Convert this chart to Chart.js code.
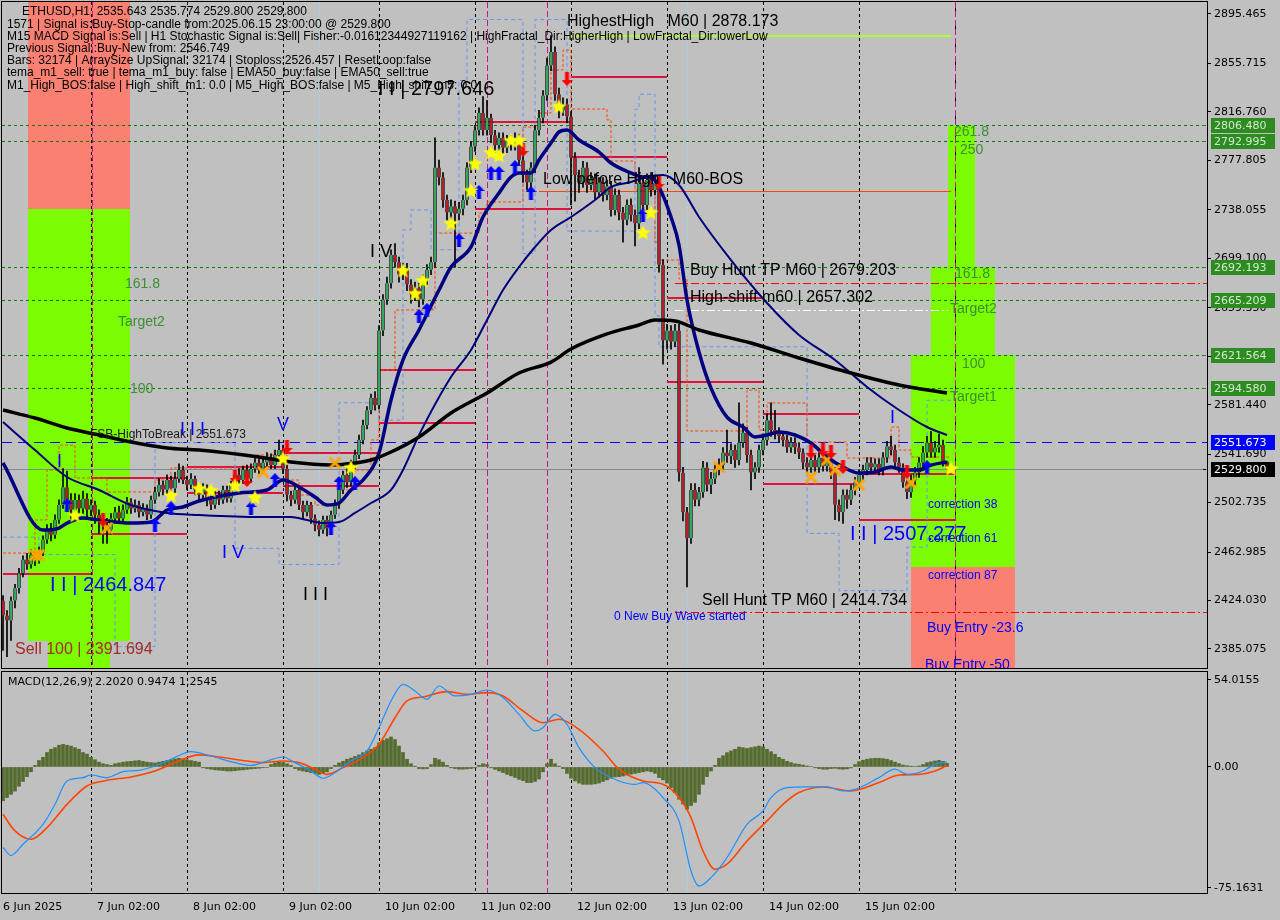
<!DOCTYPE html>
<html>
<head>
<meta charset="utf-8">
<title>ETHUSD,H1</title>
<script src="https://cdn.jsdelivr.net/npm/chart.js@4.4.1/dist/chart.umd.min.js"></script>
<style>
  html, body { margin: 0; padding: 0; background: #c0c0c0; }
  #wrap { position: relative; width: 1280px; height: 920px; overflow: hidden; }
  #wrap canvas { position: absolute; left: 0; }
  #mainChart { top: 0; }
  #macdChart { top: 670px; }
</style>
</head>
<body>
<div id="wrap">
  <canvas id="mainChart" width="1280" height="670"></canvas>
  <canvas id="macdChart" width="1280" height="250"></canvas>
</div>
<script>
// --- 1. Data (H1 bars from 6 Jun 2025 04:00 to 15 Jun 2025 23:00) ---
const opens = [
  2424, 2412, 2408, 2424, 2434, 2446, 2457, 2453, 2461, 2457,
  2463, 2473, 2481, 2477, 2489, 2501, 2515, 2505, 2497, 2505,
  2498, 2506, 2497, 2501, 2493, 2489, 2485, 2481, 2490, 2495,
  2490, 2497, 2503, 2498, 2501, 2495, 2498, 2493, 2505, 2511,
  2517, 2513, 2521, 2514, 2522, 2529, 2521, 2517, 2522, 2513,
  2509, 2514, 2505, 2501, 2509, 2505, 2513, 2506, 2517, 2525,
  2521, 2529, 2522, 2530, 2535, 2529, 2535, 2539, 2533, 2541,
  2545, 2530, 2509, 2505, 2513, 2501, 2495, 2501, 2490, 2485,
  2481, 2489, 2482, 2493, 2501, 2513, 2525, 2519, 2533, 2541,
  2553, 2565, 2577, 2587, 2581, 2641, 2666, 2679, 2702, 2696,
  2686, 2691, 2678, 2670, 2675, 2666, 2682, 2690, 2696, 2772,
  2764, 2746, 2736, 2741, 2735, 2739, 2746, 2772, 2789, 2802,
  2816, 2802, 2812, 2798, 2790, 2796, 2788, 2794, 2790, 2796,
  2778, 2766, 2760, 2772, 2802, 2812, 2830, 2854, 2865, 2831,
  2818, 2823, 2813, 2780, 2766, 2760, 2772, 2758, 2763, 2752,
  2760, 2750, 2757, 2738, 2750, 2736, 2730, 2742, 2734, 2727,
  2760, 2742, 2762, 2754, 2760, 2694, 2633, 2641, 2632, 2641,
  2527, 2495, 2474, 2513, 2505, 2511, 2531, 2517, 2522, 2529,
  2533, 2543, 2540, 2545, 2537, 2551, 2559, 2541, 2527, 2531,
  2545, 2553, 2569, 2561, 2559, 2556, 2553, 2547, 2551, 2547,
  2543, 2535, 2531, 2537, 2531, 2539, 2532, 2535, 2527, 2501,
  2495, 2509, 2505, 2513, 2519, 2525, 2529, 2535, 2531, 2534,
  2529, 2539, 2548, 2545, 2535, 2531, 2519, 2511, 2521, 2527,
  2535, 2543, 2551, 2543, 2547, 2549, 2535.643
];
const highs = [
  2428, 2416, 2427, 2437, 2450, 2460, 2462, 2465, 2464, 2467,
  2476, 2485, 2486, 2493, 2505, 2530, 2528, 2510, 2510, 2509,
  2512, 2510, 2505, 2504, 2497, 2494, 2490, 2494, 2499, 2500,
  2501, 2507, 2506, 2505, 2504, 2502, 2501, 2508, 2515, 2522,
  2520, 2525, 2524, 2527, 2534, 2532, 2524, 2526, 2524, 2516,
  2518, 2517, 2508, 2512, 2512, 2516, 2516, 2520, 2528, 2530,
  2532, 2533, 2534, 2539, 2538, 2538, 2543, 2542, 2545, 2553,
  2549, 2533, 2512, 2516, 2515, 2504, 2504, 2503, 2493, 2488,
  2492, 2492, 2496, 2505, 2516, 2528, 2530, 2537, 2545, 2557,
  2569, 2580, 2590, 2592, 2645, 2670, 2684, 2706, 2711, 2700,
  2695, 2695, 2682, 2680, 2679, 2686, 2694, 2700, 2796, 2778,
  2768, 2750, 2746, 2745, 2744, 2750, 2776, 2793, 2806, 2820,
  2829, 2826, 2815, 2802, 2800, 2800, 2798, 2798, 2800, 2799,
  2781, 2770, 2776, 2806, 2818, 2834, 2860, 2878.173, 2869, 2836,
  2828, 2827, 2817, 2784, 2770, 2777, 2776, 2768, 2767, 2764,
  2764, 2762, 2761, 2755, 2754, 2740, 2746, 2747, 2738, 2772,
  2765, 2767, 2768, 2766, 2764, 2698, 2646, 2645, 2646, 2646,
  2531, 2499, 2518, 2518, 2515, 2536, 2535, 2527, 2533, 2538,
  2547, 2561, 2550, 2549, 2583, 2566, 2563, 2545, 2535, 2549,
  2558, 2574, 2583, 2577, 2563, 2560, 2557, 2555, 2555, 2551,
  2546, 2539, 2541, 2541, 2543, 2543, 2539, 2539, 2531, 2505,
  2513, 2513, 2517, 2523, 2529, 2533, 2539, 2539, 2538, 2538,
  2543, 2552, 2556, 2549, 2539, 2534, 2522, 2525, 2531, 2539,
  2548, 2556, 2560, 2552, 2558, 2553, 2535.774
];
const lows = [
  2384, 2379, 2392, 2418, 2430, 2443, 2449, 2450, 2452, 2454,
  2460, 2470, 2472, 2474, 2486, 2498, 2500, 2490, 2493, 2494,
  2494, 2491, 2492, 2486, 2478, 2470, 2470, 2477, 2487, 2486,
  2487, 2494, 2494, 2495, 2491, 2492, 2489, 2490, 2502, 2508,
  2509, 2510, 2511, 2511, 2519, 2518, 2513, 2514, 2509, 2505,
  2506, 2500, 2497, 2498, 2501, 2502, 2503, 2503, 2514, 2518,
  2518, 2519, 2519, 2527, 2526, 2526, 2532, 2530, 2530, 2538,
  2526, 2504, 2500, 2502, 2497, 2490, 2492, 2486, 2480, 2476,
  2478, 2476, 2479, 2490, 2498, 2510, 2515, 2516, 2530, 2538,
  2550, 2562, 2574, 2577, 2578, 2637, 2662, 2675, 2692, 2680,
  2682, 2673, 2663, 2665, 2660, 2662, 2678, 2686, 2692, 2758,
  2740, 2730, 2730, 2692, 2730, 2734, 2742, 2768, 2785, 2798,
  2798, 2798, 2792, 2784, 2786, 2783, 2784, 2786, 2786, 2774,
  2760, 2754, 2756, 2768, 2798, 2808, 2826, 2850, 2826, 2812,
  2814, 2808, 2742, 2745, 2752, 2756, 2752, 2754, 2747, 2748,
  2745, 2746, 2733, 2734, 2730, 2712, 2726, 2729, 2709, 2723,
  2737, 2738, 2749, 2750, 2688, 2614, 2626, 2626, 2628, 2520,
  2488, 2435, 2470, 2500, 2500, 2507, 2512, 2510, 2518, 2525,
  2529, 2535, 2534, 2531, 2533, 2547, 2535, 2513, 2522, 2527,
  2541, 2549, 2556, 2554, 2551, 2548, 2543, 2543, 2542, 2538,
  2530, 2526, 2527, 2526, 2527, 2528, 2528, 2522, 2489, 2488,
  2486, 2498, 2501, 2509, 2515, 2521, 2525, 2527, 2527, 2525,
  2525, 2535, 2541, 2531, 2527, 2515, 2506, 2507, 2517, 2523,
  2531, 2539, 2539, 2539, 2543, 2532, 2529.8
];
const closes = [
  2412, 2408, 2424, 2434, 2446, 2457, 2453, 2461, 2457, 2463,
  2473, 2481, 2477, 2489, 2501, 2515, 2505, 2497, 2505, 2498,
  2506, 2497, 2501, 2493, 2489, 2485, 2481, 2490, 2495, 2490,
  2497, 2503, 2498, 2501, 2495, 2498, 2493, 2505, 2511, 2517,
  2513, 2521, 2514, 2522, 2529, 2521, 2517, 2522, 2513, 2509,
  2514, 2505, 2501, 2509, 2505, 2513, 2506, 2517, 2525, 2521,
  2529, 2522, 2530, 2535, 2529, 2535, 2539, 2533, 2541, 2545,
  2530, 2509, 2505, 2513, 2501, 2495, 2501, 2490, 2485, 2481,
  2489, 2482, 2493, 2501, 2513, 2525, 2519, 2533, 2541, 2553,
  2565, 2577, 2587, 2581, 2641, 2666, 2679, 2702, 2696, 2686,
  2691, 2678, 2670, 2675, 2666, 2682, 2690, 2696, 2772, 2764,
  2746, 2736, 2741, 2735, 2739, 2746, 2772, 2789, 2802, 2816,
  2802, 2812, 2798, 2790, 2796, 2788, 2794, 2790, 2796, 2778,
  2766, 2760, 2772, 2802, 2812, 2830, 2854, 2865, 2831, 2818,
  2823, 2813, 2780, 2766, 2760, 2772, 2758, 2763, 2752, 2760,
  2750, 2757, 2738, 2750, 2736, 2730, 2742, 2734, 2727, 2760,
  2742, 2762, 2754, 2760, 2694, 2633, 2641, 2632, 2641, 2527,
  2495, 2474, 2513, 2505, 2511, 2531, 2517, 2522, 2529, 2533,
  2543, 2540, 2545, 2537, 2551, 2559, 2541, 2527, 2531, 2545,
  2553, 2569, 2561, 2559, 2556, 2553, 2547, 2551, 2547, 2543,
  2535, 2531, 2537, 2531, 2539, 2532, 2535, 2527, 2501, 2495,
  2509, 2505, 2513, 2519, 2525, 2529, 2535, 2531, 2534, 2529,
  2539, 2548, 2545, 2535, 2531, 2519, 2511, 2521, 2527, 2535,
  2543, 2551, 2543, 2547, 2549, 2535.643, 2529.8
];

// moving averages, read at sample bars
const emaFastIdx = [0, 10, 14, 16, 20, 24, 32, 37, 41, 45, 49, 59, 66, 70, 74, 78, 81, 84, 87, 90, 94, 97, 100, 104, 109, 112, 117, 120, 124, 127, 129, 132, 134, 137, 139, 141, 144, 149, 152, 157, 160, 162, 164, 167, 169, 171, 174, 177, 181, 185, 188, 191, 194, 198, 202, 206, 210, 214, 218, 222, 225, 229, 232, 236];
const emaFastVal = [2534.6, 2480.7, 2482.3, 2486.3, 2490.4, 2488.7, 2486.3, 2487.1, 2496.8, 2499.2, 2504.0, 2510.5, 2512.9, 2520.9, 2515.3, 2507.2, 2500.8, 2502.4, 2512.9, 2520.9, 2542.6, 2585.2, 2617.4, 2641.5, 2673.6, 2692.1, 2708.2, 2732.3, 2751.6, 2764.4, 2767.7, 2767.7, 2778.1, 2791.8, 2800.6, 2802.2, 2794.2, 2784.5, 2775.7, 2767.7, 2764.5, 2764.5, 2756.4, 2732.3, 2709.8, 2665.6, 2623.8, 2594.8, 2571.5, 2563.5, 2555.5, 2557.1, 2559.5, 2557.1, 2550.6, 2539.4, 2531.4, 2526.5, 2527.3, 2531.4, 2528.9, 2528.9, 2532.9, 2535.4];
const ema50Idx = [0, 8, 16, 24, 32, 41, 49, 64, 72, 76, 80, 84, 88, 92, 97, 100, 104, 112, 117, 121, 125, 129, 133, 137, 142, 148, 152, 157, 161, 165, 169, 174, 182, 191, 199, 208, 216, 224, 231, 236];
const ema50Val = [2567.5, 2545.0, 2523.3, 2512.9, 2500.8, 2494.4, 2492.8, 2491.2, 2491.2, 2488.7, 2486.3, 2487.1, 2494.4, 2502.4, 2512.9, 2529.0, 2557.0, 2603.7, 2625.4, 2649.5, 2673.6, 2692.1, 2708.2, 2721.9, 2732.3, 2746.0, 2756.4, 2760.4, 2764.5, 2766.1, 2758.0, 2732.3, 2697.7, 2663.2, 2637.5, 2617.4, 2595.7, 2577.2, 2563.5, 2557.1];
const ema200Idx = [0, 8, 16, 24, 32, 41, 49, 64, 72, 82, 88, 92, 97, 104, 112, 121, 129, 137, 142, 151, 159, 163, 168, 174, 187, 199, 212, 224, 236];
const ema200Val = [2577.2, 2570.7, 2562.7, 2557.1, 2551.4, 2546.6, 2545.0, 2539.4, 2535.4, 2533.0, 2534.6, 2537.0, 2543.4, 2555.5, 2574.8, 2590.8, 2606.9, 2615.7, 2626.2, 2638.3, 2645.5, 2649.5, 2648.7, 2641.5, 2631.0, 2619.0, 2606.9, 2597.3, 2590.8];

// stepped indicator lines
const channelIdx = [0, 9, 28, 38, 58, 69, 84, 94, 100, 102, 107, 114, 116, 130, 133, 141, 158, 159, 163, 164, 201, 209, 226, 231, 237];
const channelVal = [2475, 2461, 2387, 2551, 2466, 2453, 2583, 2569, 2722, 2738, 2706, 2842, 2891, 2703, 2891, 2721, 2819, 2831, 2653, 2628, 2478, 2432, 2467, 2585, 2585];
const trailIdx = [0, 8, 11, 14, 18, 26, 38, 42, 63, 71, 74, 78, 84, 88, 92, 94, 98, 108, 119, 121, 130, 134, 137, 140, 142, 151, 152, 158, 163, 164, 169, 171, 186, 189, 191, 201, 211, 222, 224, 227, 237];
const trailVal = [2462.2, 2488.8, 2528.9, 2549.0, 2522.5, 2511.3, 2520.9, 2530.6, 2541.0, 2520.9, 2508.8, 2500.8, 2512.9, 2528.9, 2553.1, 2609.3, 2657.6, 2719.4, 2735.5, 2744.4, 2804.6, 2815.9, 2850.5, 2866.5, 2819.1, 2810.3, 2777.3, 2754.0, 2712.2, 2697.7, 2682.5, 2560.3, 2593.2, 2561.1, 2582.8, 2551.4, 2538.6, 2563.5, 2545.0, 2539.4, 2539.4];

// signal markers
const starIdx = [18, 42, 49, 52, 58, 63, 70, 87, 100, 103, 105, 112, 117, 118, 122, 124, 127, 129, 139, 160, 162, 237];
const starVal = [2492.8, 2508.8, 2514.5, 2512.9, 2516.9, 2507.2, 2538.6, 2531.4, 2689.7, 2671.2, 2681.6, 2727.5, 2754.0, 2775.7, 2784.5, 2782.1, 2794.2, 2794.2, 2821.5, 2720.2, 2736.3, 2530.6];
const buyArrowIdx = [16, 38, 42, 62, 68, 82, 84, 88, 104, 106, 114, 119, 122, 124, 128, 132, 160, 231];
const buyArrowVal = [2500.8, 2484.7, 2498.4, 2498.4, 2520.9, 2482.3, 2518.5, 2518.5, 2652.7, 2657.6, 2713.8, 2752.4, 2767.7, 2767.7, 2772.5, 2751.6, 2733.9, 2531.4];
const sellArrowIdx = [25, 58, 61, 71, 130, 141, 164, 202, 205, 207, 210, 226];
const sellArrowVal = [2488.8, 2523.3, 2520.9, 2547.4, 2786.2, 2843.2, 2759.6, 2543.4, 2545.0, 2543.4, 2531.4, 2527.3];
const crossIdx = [8, 9, 26, 65, 83, 179, 202, 206, 208, 214, 227];
const crossVal = [2460.6, 2460.6, 2482.3, 2527.3, 2534.6, 2531.4, 2523.3, 2537.0, 2528.9, 2516.9, 2518.5];

// swing segments (bar from, bar to, price)
const segFrom  = [0, 22, 22, 46, 46, 70, 70, 94, 94, 118, 118, 142, 142, 166, 166, 190, 190, 214, 214];
const segTo    = [22, 46, 46, 70, 70, 94, 94, 118, 118, 142, 142, 166, 166, 190, 190, 214, 214, 238, 238];
const segPrice = [2445.4, 2522.5, 2477.5, 2531.3, 2510.4, 2542.6, 2516.1, 2609.3, 2566.7, 2808.7, 2738.7, 2844.8, 2780.5, 2667.2, 2599.7, 2574.0, 2517.7, 2525.7, 2488.7];

// target / entry zones (bar from, bar to, low price, high price, kind)
const zoneFrom = [6.25, 6.25, 11.25, 236.25, 232, 227, 227];
const zoneTo   = [31.75, 31.75, 26.75, 243, 248, 253, 253];
const zoneLow  = [2738.6, 2391.694, 2340, 2692.193, 2621.564, 2451.0, 2340];
const zoneHigh = [2960, 2738.6, 2391.694, 2806.48, 2692.193, 2621.564, 2451.0];
const zoneKind = ['sell', 'buy', 'buy', 'buy', 'buy', 'buy', 'sell'];

// levels
const fiboLevels = [2806.480, 2792.995, 2692.193, 2665.209, 2621.564, 2594.580];
const fsbHighToBreak = 2551.673;
const lastPrice = closes[closes.length - 1];
const lineLevel = [2878.173, 2753.2, 2679.203, 2657.302, 2414.734];
const lineFrom  = [140.5, 134, 168, 168, 168];
const lineTo    = [237, 237, 310, 236.25, 310];
const lineKind  = ['highest', 'bos', 'huntTP', 'shift', 'huntTP'];

// time axis
const daySeparators = [22, 46, 70, 94, 118, 142, 166, 190, 214, 238];
const signalBarsMain = [22.25, 121, 136, 238];
const signalBarsMacd = [121, 136];
const sessionBars = [79, 171];
const dateTickIdx = [0, 23.5, 47.5, 71.5, 95.5, 119.5, 143.5, 167.5, 191.5, 215.5];
const dateLabels = ['6 Jun 2025', '7 Jun 02:00', '8 Jun 02:00', '9 Jun 02:00', '10 Jun 02:00', '11 Jun 02:00', '12 Jun 02:00', '13 Jun 02:00', '14 Jun 02:00', '15 Jun 02:00'];
const priceTicks = [2895.465, 2855.715, 2816.760, 2777.805, 2738.055, 2699.100, 2659.350, 2620.395, 2581.440, 2541.690, 2502.735, 2462.985, 2424.030, 2385.075];

// MACD(12,26,9)
const macdHist = [
  -21, -19, -17, -15, -12, -9, -6, -3,
  1, 4, 6, 9, 11, 12, 13.5, 14, 13.5, 13, 12, 11, 9, 8, 6,
  4.5, 3, 2, 1.5, 1,
  2, 2.5, 3, 3.3, 3.5, 3.8, 4, 3.5, 3, 2.7, 2.5, 3, 3.5, 4, 4.5, 5, 5.4, 5, 4.5, 4, 3.5, 3,
  -0.5, -1, -1.4, -1.8, -2, -2.2, -2.5, -2.5, -2.3, -2, -1.8, -1.5, -1.2, -1, -0.8, -0.5, -0.3,
  1.5, 2.5, 3, 2.7, 2, 1,
  -1, -2, -2.5, -3, -3.5, -4, -4.6, -4, -3,
  -1, 1, 2.5, 3.5, 4.8, 5.5, 6.5, 7.5, 8.9, 10, 11, 12,
  15, 16.5, 17.5, 18.6, 17, 13, 9, 4.8, 2,
  0.5, -1, -1.2, -1, 1.5,
  5.4, 4.5, 3, 1,
  -0.5, -1, -1.4, -1.4, -1.2, -1, -0.5,
  1, 2, 1.5,
  -0.5, -1.5, -2.5, -3.5, -4.6, -5.5, -6.5, -7.7, -8.5, -9.7, -9.7, -9, -7.5,
  -3, 2, 4.8,
  2, 0.5, -1,
  -4, -7, -8.7, -10, -10.8, -10.8, -10.8, -10.5, -10, -9, -8, -7,
  -6.2, -6, -5.6, -5, -4.5, -4, -3.5, -3, -2.5, -3, -4,
  -6.6, -8, -10, -12.8, -16, -20, -23, -26.3, -24, -22, -17, -10.8, -6, -2.5,
  1, 5.4, 7, 8.9, 10, 11, 12.4, 12, 11.5, 12, 12.5, 13, 12.5, 11, 9.5, 7.9, 6, 4.8, 3.5, 2.7,
  2, 1.7, 1.2, 0.6, 0.3, -0.5, -1, -1.4, -1.4, -1,
  -0.8, -1.2, -1.4, -1.2, -0.6,
  1.5, 3.3, 4.2, 4.8, 5.2, 5.4, 5.4, 5.2, 4.8, 4, 3, 2.1, 1.2, 0.8,
  0.5, 0.3, 0.6,
  1.5, 2.7, 3.2, 3.7, 4.1, 3.5, 2.202
];
const macdIdx = [0, 2, 5, 10, 13, 16, 20, 22, 26, 30, 34, 38, 42, 47, 52, 58, 62, 66, 70, 73, 77, 80, 83, 87, 91, 94, 97, 100, 103, 106, 109, 113, 117, 121, 125, 129, 133, 135, 138, 141, 144, 148, 154, 158, 160, 162, 165, 169, 172, 174, 177, 181, 186, 190, 192, 196, 201, 206, 210, 213, 219, 223, 226, 230, 233, 236];
const macdMain = [-50, -55, -48, -35.6, -23.2, -8.7, -6.6, -5, -6.6, -2.9, -2.1, 0.6, 4.8, 9.5, 6.8, 2.7, 1, 3.7, 6.2, 2.7, -2.5, -7, -3.5, 3.7, 9.9, 24.4, 41, 51.3, 47.2, 42, 50.3, 44.1, 45.1, 47.8, 43.1, 32.7, 22.4, 24.4, 32.7, 26.5, 12, -0.4, -8.7, -10.8, -9.7, -11.8, -19, -33.5, -64.6, -73.9, -68.7, -56.3, -35.6, -27.3, -19, -12.8, -12.4, -12.4, -14.9, -13.9, -6.6, -1.4, -4.6, -2.5, 1.7, 3.2];
const signalIdx = [0, 3, 7, 11, 16, 21, 26, 32, 38, 43, 49, 54, 61, 65, 70, 74, 78, 81, 85, 90, 94, 98, 101, 105, 111, 116, 121, 125, 130, 135, 139, 144, 150, 154, 160, 165, 169, 172, 175, 178, 181, 186, 191, 195, 199, 205, 212, 219, 224, 229, 233, 236];
const signalVal = [-29.4, -39.7, -44.9, -37.7, -23.2, -11.8, -8.3, -6.2, -2.5, 2.7, 7.5, 6.2, 3.7, 2.7, 3.7, 2.7, -1.4, -4.6, -0.4, 5.8, 14.1, 30.6, 41, 43.5, 46.8, 45.1, 46.2, 44.1, 34.8, 27.5, 29.6, 23.4, 9.9, -1.4, -8.7, -10.8, -19, -31.5, -52.2, -63.5, -60.4, -46, -33.5, -23.2, -15.9, -12.4, -14.9, -9.7, -5, -4.6, -2.5, 0.9];
const macdTicks = [54.0155, 0, -75.1631];
const macdTickText = ['54.0155', '0.00', '-75.1631'];

// chart texts: [text, bar, price, style]
const annotations = [
  ['HighestHigh   M60 | 2878.173', 141, 2889.0, 'big'],
  ['Low before High   M60-BOS', 135, 2762.0, 'big'],
  ['Buy Hunt TP M60 | 2679.203', 171.75, 2688.9, 'big'],
  ['High-shift m60 | 2657.302', 171.75, 2667.2, 'big'],
  ['Sell Hunt TP M60 | 2414.734', 174.75, 2423.7, 'big'],
  ['0 New Buy Wave started', 152.75, 2410.8, 'blueSmall'],
  ['FSB-HighToBreak | 2551.673', 21.75, 2557.1, 'small'],
  ['Sell 100 | 2391.694', 3, 2384.3, 'sell'],
  ['161.8', 30.5, 2678.4, 'fib'],
  ['Target2', 28.75, 2647.9, 'fib'],
  ['100', 31.75, 2594.1, 'fib'],
  ['261.8', 237.75, 2800.6, 'fib'],
  ['250', 239.25, 2786.2, 'fib'],
  ['161.8', 238, 2686.5, 'fib'],
  ['Target2', 236.75, 2658.4, 'fib'],
  ['100', 239.75, 2614.2, 'fib'],
  ['Target1', 236.75, 2587.6, 'fib'],
  ['correction 38', 231.25, 2500.8, 'blueSmall'],
  ['correction 61', 231.25, 2473.5, 'blueSmall'],
  ['correction 87', 231.25, 2443.7, 'blueSmall'],
  ['Buy Entry -23.6', 231, 2401.9, 'entry'],
  ['Buy Entry -50', 230.5, 2372.2, 'entry'],
  ['I I | 2797.646', 93.75, 2834.4, 'waveBlack'],
  ['I I | 2464.847', 11.75, 2436.5, 'waveBlue'],
  ['I I | 2507.277', 211.75, 2477.5, 'waveBlue'],
  ['I', 13.5, 2535.4, 'romanBlue'],
  ['I I I', 44.25, 2561.1, 'romanBlue'],
  ['V', 68.5, 2565.1, 'romanBlue'],
  ['I V', 54.75, 2462.2, 'romanBlue'],
  ['I I I', 75, 2428.5, 'romanBlack'],
  ['I V', 91.75, 2704.2, 'romanBlack'],
  ['I', 221.75, 2570.7, 'romanBlue']
];
const infoLines = [
  'ETHUSD,H1  2535.643 2535.774 2529.800 2529.800',
  '1571 | Signal is:Buy-Stop-candle from:2025.06.15 23:00:00 @ 2529.800',
  'M15 MACD Signal is:Sell | H1 Stochastic Signal is:Sell| Fisher:-0.01612344927119162 | HighFractal_Dir:HigherHigh | LowFractal_Dir:lowerLow',
  'Previous Signal :Buy-New from: 2546.749',
  'Bars: 32174 | ArraySize UpSignal: 32174 | Stoploss:2526.457 | ResetLoop:false',
  'tema_m1_sell: true | tema_m1_buy: false | EMA50_buy:false | EMA50_sell:true',
  'M1_High_BOS:false | High_shift_m1: 0.0 | M5_High_BOS:false | M5_High_shift_m5: 0.0'
];
const macdTitle = 'MACD(12,26,9) 2.2020 0.9474 1.2545';

// --- 2. Styles ---
const SANS = '"Liberation Sans", Arial, sans-serif';
const AXIS_FONT = { family: '"DejaVu Sans", sans-serif', size: 11 };
const textStyles = {
  big:        { font: '16px ' + SANS, color: '#000000' },
  small:      { font: '12px ' + SANS, color: '#1a1a1a' },
  blueSmall:  { font: '12px ' + SANS, color: '#0000ff' },
  sell:       { font: '16px ' + SANS, color: '#a52a2a' },
  fib:        { font: '14px ' + SANS, color: '#3c8f32' },
  entry:      { font: '14px ' + SANS, color: '#0000ff' },
  waveBlack:  { font: '20px ' + SANS, color: '#000000' },
  waveBlue:   { font: '20px ' + SANS, color: '#0000ff' },
  romanBlue:  { font: '18px ' + SANS, color: '#0000ff' },
  romanBlack: { font: '18px ' + SANS, color: '#000000' }
};
const zoneColors = { buy: '#7cfc00', sell: '#fa8072' };
const lineStyles = {
  highest: { color: '#adff2f', width: 2, dash: [] },
  bos:     { color: '#ff4500', width: 1, dash: [] },
  huntTP:  { color: '#ff0000', width: 1, dash: [8, 3, 2, 3] },
  shift:   { color: '#ffffff', width: 1, dash: [8, 3, 2, 3] }
};

// --- 3. Marker glyphs ---
function starGlyph(size, color) {
  const c = document.createElement('canvas');
  c.width = size; c.height = size;
  const g = c.getContext('2d');
  const r = size / 2;
  g.beginPath();
  for (let k = 0; k < 10; k++) {
    const a = -Math.PI / 2 + k * Math.PI / 5;
    const rr = k % 2 ? r * 0.42 : r - 0.5;
    g.lineTo(r + rr * Math.cos(a), r + 1 + rr * Math.sin(a));
  }
  g.closePath();
  g.fillStyle = color;
  g.fill();
  return c;
}
function arrowGlyph(color, up) {
  const c = document.createElement('canvas');
  c.width = 11; c.height = 14;
  const g = c.getContext('2d');
  if (!up) { g.translate(0, 14); g.scale(1, -1); }
  g.beginPath();
  g.moveTo(5.5, 0); g.lineTo(11, 6); g.lineTo(7.5, 6); g.lineTo(7.5, 14);
  g.lineTo(3.5, 14); g.lineTo(3.5, 6); g.lineTo(0, 6);
  g.closePath();
  g.fillStyle = color;
  g.fill();
  return c;
}
function crossGlyph(color) {
  const c = document.createElement('canvas');
  c.width = 13; c.height = 13;
  const g = c.getContext('2d');
  g.strokeStyle = color; g.lineWidth = 3; g.lineCap = 'round';
  g.beginPath();
  g.moveTo(2, 2); g.lineTo(11, 11);
  g.moveTo(11, 2); g.lineTo(2, 11);
  g.stroke();
  return c;
}

// --- 4. Helpers ---
const pts = (xs, ys) => xs.map((x, k) => ({ x: x, y: ys[k] }));
const bars = closes.map((_, i) => i);

// fixed axis sizes, no automatic label padding (keeps plot edges where MT4 puts them)
function fixedWidth(w) {
  return s => { s.width = w; s.paddingTop = 0; s.paddingBottom = 0; s.paddingLeft = 0; s.paddingRight = 0; };
}
function fixedHeight(h) {
  return s => { s.height = h; s.paddingTop = 0; s.paddingBottom = 0; s.paddingLeft = 0; s.paddingRight = 0; };
}

function dashedVertical(ctx, area, px, color, dash) {
  ctx.save();
  ctx.strokeStyle = color;
  ctx.lineWidth = 1;
  ctx.setLineDash(dash);
  ctx.beginPath();
  ctx.moveTo(Math.round(px) + 0.5, area.top);
  ctx.lineTo(Math.round(px) + 0.5, area.bottom);
  ctx.stroke();
  ctx.restore();
}
function hLine(ctx, x0, x1, py, color, width, dash) {
  ctx.save();
  ctx.strokeStyle = color;
  ctx.lineWidth = width;
  ctx.setLineDash(dash);
  const yy = width % 2 ? Math.round(py) + 0.5 : Math.round(py);
  ctx.beginPath();
  ctx.moveTo(x0, yy);
  ctx.lineTo(x1, yy);
  ctx.stroke();
  ctx.restore();
}
function frame(ctx, a) {
  ctx.save();
  ctx.strokeStyle = '#000';
  ctx.lineWidth = 1;
  ctx.setLineDash([]);
  ctx.strokeRect(a.left - 0.5, a.top - 0.5, a.right - a.left + 1, a.bottom - a.top + 1);
  ctx.restore();
}
function axisTag(ctx, chart, value, text, bg, fg) {
  const py = Math.round(chart.scales.y.getPixelForValue(value));
  const right = chart.chartArea.right;
  ctx.save();
  ctx.fillStyle = bg;
  ctx.fillRect(right + 4, py - 7, 64, 15);
  ctx.fillRect(right - 4, py, 3, 1);
  ctx.fillStyle = fg;
  ctx.font = '11px "DejaVu Sans", sans-serif';
  ctx.textBaseline = 'middle';
  ctx.textAlign = 'left';
  ctx.fillText(text, right + 7, py + 1);
  ctx.restore();
}

// --- 5. Price panel decorations ---
const mainDecor = {
  id: 'mainDecor',
  beforeDatasetsDraw(chart) {
    const { ctx, chartArea: a, scales: { x, y } } = chart;
    ctx.save();
    ctx.beginPath();
    ctx.rect(a.left, a.top, a.right - a.left, a.bottom - a.top);
    ctx.clip();

    zoneFrom.forEach((f, k) => {
      const x0 = x.getPixelForValue(f), x1 = x.getPixelForValue(zoneTo[k]);
      const y0 = y.getPixelForValue(zoneHigh[k]), y1 = y.getPixelForValue(zoneLow[k]);
      ctx.fillStyle = zoneColors[zoneKind[k]];
      ctx.fillRect(Math.round(x0), Math.round(y0), Math.round(x1 - x0), Math.round(y1 - y0));
    });

    daySeparators.forEach(b => dashedVertical(ctx, a, x.getPixelForValue(b), '#000000', [3, 3]));
    sessionBars.forEach(b => dashedVertical(ctx, a, x.getPixelForValue(b), '#9ad8ee', [2, 2]));
    signalBarsMain.forEach(b => dashedVertical(ctx, a, x.getPixelForValue(b), '#c71585', [6, 3]));

    fiboLevels.forEach(v => hLine(ctx, a.left, a.right, y.getPixelForValue(v), '#007a00', 1, [3, 3]));
    hLine(ctx, a.left, a.right, y.getPixelForValue(fsbHighToBreak), '#0000ff', 1, [10, 6]);
    hLine(ctx, a.left, a.right, y.getPixelForValue(lastPrice), '#7d8a96', 1, []);
    lineLevel.forEach((v, k) => {
      const st = lineStyles[lineKind[k]];
      hLine(ctx, x.getPixelForValue(lineFrom[k]), Math.min(a.right, x.getPixelForValue(lineTo[k])), y.getPixelForValue(v), st.color, st.width, st.dash);
    });

    segPrice.forEach((v, k) => {
      hLine(ctx, x.getPixelForValue(segFrom[k]), x.getPixelForValue(segTo[k]), y.getPixelForValue(v), '#dc143c', 2, []);
    });
    ctx.restore();
  },
  afterDatasetsDraw(chart) {
    const { ctx, chartArea: a, scales: { x, y } } = chart;
    ctx.save();
    ctx.beginPath();
    ctx.rect(a.left, a.top, a.right - a.left, a.bottom - a.top);
    ctx.clip();
    ctx.textBaseline = 'middle';
    ctx.textAlign = 'left';
    annotations.forEach(([txt, bar, price, style]) => {
      const st = textStyles[style];
      ctx.font = st.font;
      ctx.fillStyle = st.color;
      ctx.fillText(txt, x.getPixelForValue(bar), y.getPixelForValue(price));
    });
    ctx.font = '12px ' + SANS;
    ctx.fillStyle = '#000';
    infoLines.forEach((line, k) => {
      ctx.fillText(line, k === 0 ? 22 : 7, 12 + k * 12.2);
    });
    ctx.restore();
  },
  afterDraw(chart) {
    const { ctx, chartArea: a } = chart;
    frame(ctx, a);
    fiboLevels.forEach(v => axisTag(ctx, chart, v, v.toFixed(3), '#2e8b22', '#cfeccb'));
    axisTag(ctx, chart, fsbHighToBreak, fsbHighToBreak.toFixed(3), '#0000ff', '#ffffff');
    axisTag(ctx, chart, lastPrice, lastPrice.toFixed(3), '#000000', '#ffffff');
  }
};

// --- 6. MACD panel decorations ---
const macdDecor = {
  id: 'macdDecor',
  beforeDatasetsDraw(chart) {
    const { ctx, chartArea: a, scales: { x } } = chart;
    ctx.save();
    ctx.beginPath();
    ctx.rect(a.left, a.top, a.right - a.left, a.bottom - a.top);
    ctx.clip();
    daySeparators.forEach(b => dashedVertical(ctx, a, x.getPixelForValue(b), '#000000', [3, 3]));
    sessionBars.forEach(b => dashedVertical(ctx, a, x.getPixelForValue(b), '#9ad8ee', [2, 2]));
    signalBarsMacd.forEach(b => dashedVertical(ctx, a, x.getPixelForValue(b), '#c71585', [6, 3]));
    ctx.restore();
  },
  afterDraw(chart) {
    const { ctx, chartArea: a } = chart;
    frame(ctx, a);
    ctx.save();
    ctx.font = '11px "DejaVu Sans", sans-serif';
    ctx.fillStyle = '#000';
    ctx.textBaseline = 'middle';
    ctx.fillText(macdTitle, 8, 12);
    ctx.restore();
  }
};

// --- 7. Charts ---
const priceChart = new Chart(document.getElementById('mainChart'), {
  type: 'bar',
  data: {
    datasets: [
      { type: 'line', data: pts(starIdx, starVal), showLine: false, pointStyle: starGlyph(17, '#ffff00'), pointRadius: 6, order: 0 },
      { type: 'line', data: pts(buyArrowIdx, buyArrowVal), showLine: false, pointStyle: arrowGlyph('#0000ff', true), pointRadius: 6, order: 0 },
      { type: 'line', data: pts(sellArrowIdx, sellArrowVal), showLine: false, pointStyle: arrowGlyph('#ff0000', false), pointRadius: 6, order: 0 },
      { type: 'line', data: pts(crossIdx, crossVal), showLine: false, pointStyle: crossGlyph('#ffa500'), pointRadius: 6, order: 0 },
      { type: 'line', data: pts(ema200Idx, ema200Val), borderColor: '#000000', borderWidth: 3.5, pointRadius: 0, cubicInterpolationMode: 'monotone', order: 1 },
      { type: 'line', data: pts(ema50Idx, ema50Val), borderColor: '#00007a', borderWidth: 2, pointRadius: 0, cubicInterpolationMode: 'monotone', order: 1 },
      { type: 'line', data: pts(emaFastIdx, emaFastVal), borderColor: '#000080', borderWidth: 3.5, pointRadius: 0, cubicInterpolationMode: 'monotone', order: 1 },
      {
        type: 'bar', order: 3, grouped: false, barThickness: 3, minBarLength: 1,
        data: bars.map(i => ({ x: i, y: [opens[i], closes[i]] })),
        backgroundColor: bars.map(i => closes[i] >= opens[i] ? '#3cc46a' : '#d8202c'),
        borderColor: '#1a1a1a', borderWidth: { left: 1, right: 1, top: 0, bottom: 0 }, borderSkipped: false
      },
      {
        type: 'bar', order: 4, grouped: false, barThickness: 1,
        data: bars.map(i => ({ x: i, y: [lows[i], highs[i]] })),
        backgroundColor: '#000000'
      },
      { type: 'line', data: pts(trailIdx, trailVal), stepped: 'before', borderColor: '#ff4500', borderWidth: 1, borderDash: [3, 2], pointRadius: 0, order: 5 },
      { type: 'line', data: pts(channelIdx, channelVal), stepped: 'before', borderColor: '#6495ed', borderWidth: 1, borderDash: [4, 3], pointRadius: 0, order: 5 }
    ]
  },
  options: {
    responsive: false,
    animation: false,
    devicePixelRatio: 1,
    events: [],
    layout: { autoPadding: false, padding: { left: 2, top: 2, right: 0, bottom: 2 } },
    plugins: { legend: { display: false }, tooltip: { enabled: false } },
    scales: {
      x: { type: 'linear', min: -0.25, max: 301, offset: false, display: false },
      y: {
        position: 'right', min: 2369.80, max: 2905.11,
        afterFit: fixedWidth(73),
        afterBuildTicks: s => { s.ticks = priceTicks.map(v => ({ value: v })); },
        ticks: { autoSkip: false, color: '#000', font: AXIS_FONT, padding: 3, callback: v => v.toFixed(3) },
        grid: { drawOnChartArea: false, drawTicks: true, tickLength: 4, color: '#000' },
        border: { display: true, color: '#000' }
      }
    }
  },
  plugins: [mainDecor]
});

const macdChart = new Chart(document.getElementById('macdChart'), {
  type: 'bar',
  data: {
    datasets: [
      { type: 'line', data: pts(macdIdx, macdMain), borderColor: '#1e90ff', borderWidth: 1.2, pointRadius: 0, cubicInterpolationMode: 'monotone', order: 0 },
      { type: 'line', data: pts(signalIdx, signalVal), borderColor: '#ff4500', borderWidth: 1.6, pointRadius: 0, cubicInterpolationMode: 'monotone', order: 1 },
      { type: 'bar', data: macdHist.map((v, i) => ({ x: i, y: v })), backgroundColor: '#556b2f', barThickness: 3, grouped: false, order: 2 }
    ]
  },
  options: {
    responsive: false,
    animation: false,
    devicePixelRatio: 1,
    events: [],
    layout: { autoPadding: false, padding: { left: 2, top: 2, right: 0, bottom: 0 } },
    plugins: { legend: { display: false }, tooltip: { enabled: false } },
    scales: {
      x: {
        type: 'linear', min: -0.25, max: 301, offset: false, position: 'bottom',
        afterBuildTicks: s => { s.ticks = dateTickIdx.map(v => ({ value: v })); },
        afterFit: fixedHeight(27),
        ticks: { autoSkip: false, maxRotation: 0, minRotation: 0, align: 'start', padding: 8, color: '#000', font: AXIS_FONT, callback: (v, i) => dateLabels[i] },
        grid: { display: false, drawTicks: false },
        border: { display: false }
      },
      y: {
        position: 'right', min: -78.27, max: 58.98,
        afterFit: fixedWidth(73),
        afterBuildTicks: s => { s.ticks = macdTicks.map(v => ({ value: v })); },
        ticks: { autoSkip: false, color: '#000', font: AXIS_FONT, padding: 3, callback: (v, i) => macdTickText[i] },
        grid: { drawOnChartArea: false, drawTicks: true, tickLength: 4, color: '#000' },
        border: { display: true, color: '#000' }
      }
    }
  },
  plugins: [macdDecor]
});
</script>
</body>
</html>
